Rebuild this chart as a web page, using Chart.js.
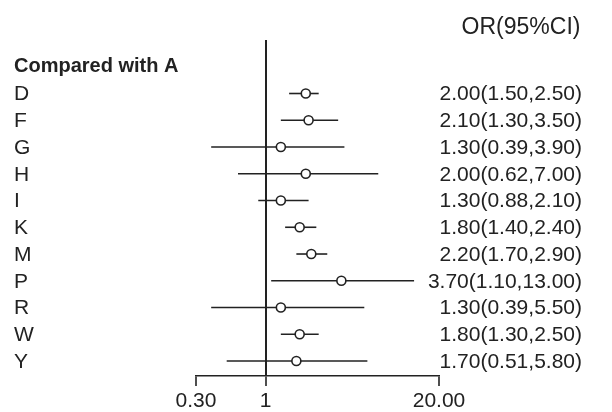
<!DOCTYPE html>
<html>
<head>
<meta charset="utf-8">
<script src="https://cdn.jsdelivr.net/npm/chart.js@4.4.1/dist/chart.umd.min.js"></script>
<style>
  html, body { margin: 0; padding: 0; background: #fff; }
  #wrap { width: 612px; height: 412px; position: relative; }
</style>
</head>
<body>
<div id="wrap"><canvas id="forest"></canvas></div>
<script>
// forest plot data
const groups = ['D', 'F', 'G', 'H', 'I', 'K', 'M', 'P', 'R', 'W', 'Y'];
const oddsRatio = [2.00, 2.10, 1.30, 2.00, 1.30, 1.80, 2.20, 3.70, 1.30, 1.80, 1.70];
const lowerCI = [1.50, 1.30, 0.39, 0.62, 0.88, 1.40, 1.70, 1.10, 0.39, 1.30, 0.51];
const upperCI = [2.50, 3.50, 3.90, 7.00, 2.10, 2.40, 2.90, 13.00, 5.50, 2.50, 5.80];
const xTicks = [0.3, 1, 20];
const xTickLabels = ['0.30', '1', '20.00'];

const FONT = '"Liberation Sans", Arial, Helvetica, sans-serif';
const INK = '#222';

const ciSets = groups.map((g, i) => ({
  label: g + ' CI',
  data: [{ x: lowerCI[i], y: i + 1 }, { x: upperCI[i], y: i + 1 }],
  showLine: true,
  borderColor: INK,
  borderWidth: 1.6,
  pointRadius: 0,
  order: 2
}));

const pointSet = {
  label: 'OR',
  data: groups.map((g, i) => ({ x: oddsRatio[i], y: i + 1 })),
  pointRadius: 4.5,
  pointBackgroundColor: '#fff',
  pointBorderColor: INK,
  pointBorderWidth: 1.6,
  order: 0
};

// row labels on the left and OR text on the right
const textPlugin = {
  id: 'forestText',
  afterDraw(chart) {
    const ctx = chart.ctx;
    const y = chart.scales.y;
    ctx.save();
    ctx.fillStyle = INK;
    ctx.textBaseline = 'middle';

    ctx.font = 'bold 20px ' + FONT;
    ctx.textAlign = 'left';
    ctx.fillText('Compared with A', 14, y.getPixelForValue(0));

    ctx.font = '21px ' + FONT;
    groups.forEach((g, i) => {
      const py = y.getPixelForValue(i + 1) + 1;
      ctx.textAlign = 'left';
      ctx.fillText(g, 14, py);
      ctx.textAlign = 'right';
      ctx.fillText(`${oddsRatio[i].toFixed(2)}(${lowerCI[i].toFixed(2)},${upperCI[i].toFixed(2)})`, 582, py);
    });

    ctx.font = '23px ' + FONT;
    ctx.textAlign = 'center';
    ctx.fillText('OR(95%CI)', 521, 28);
    ctx.restore();
  }
};

new Chart(document.getElementById('forest'), {
  type: 'scatter',
  data: { datasets: [pointSet, ...ciSets] },
  options: {
    responsive: true,
    maintainAspectRatio: false,
    animation: false,
    devicePixelRatio: 1,
    layout: { padding: { left: 196, right: 173, top: 40, bottom: 0 } },
    plugins: { legend: { display: false }, tooltip: { enabled: false } },
    scales: {
      x: {
        type: 'logarithmic',
        min: 0.3,
        max: 20,
        afterBuildTicks: s => { s.ticks = xTicks.map(v => ({ value: v })); },
        afterFit: s => { s.height = 36; },
        ticks: {
          autoSkip: false,
          maxRotation: 0,
          padding: 3,
          color: INK,
          font: { size: 21, family: FONT },
          callback: v => xTickLabels[xTicks.indexOf(v)]
        },
        grid: {
          drawOnChartArea: true,
          color: c => (c.tick && c.tick.value === 1) ? INK : 'rgba(0,0,0,0)',
          lineWidth: 2,
          tickColor: INK,
          tickLength: 10,
          tickWidth: 1.6
        },
        border: { display: true, color: INK, width: 1.6 }
      },
      y: {
        type: 'linear',
        reverse: true,
        min: -1,
        max: 11.56,
        display: false
      }
    }
  },
  plugins: [textPlugin]
});
</script>
</body>
</html>
